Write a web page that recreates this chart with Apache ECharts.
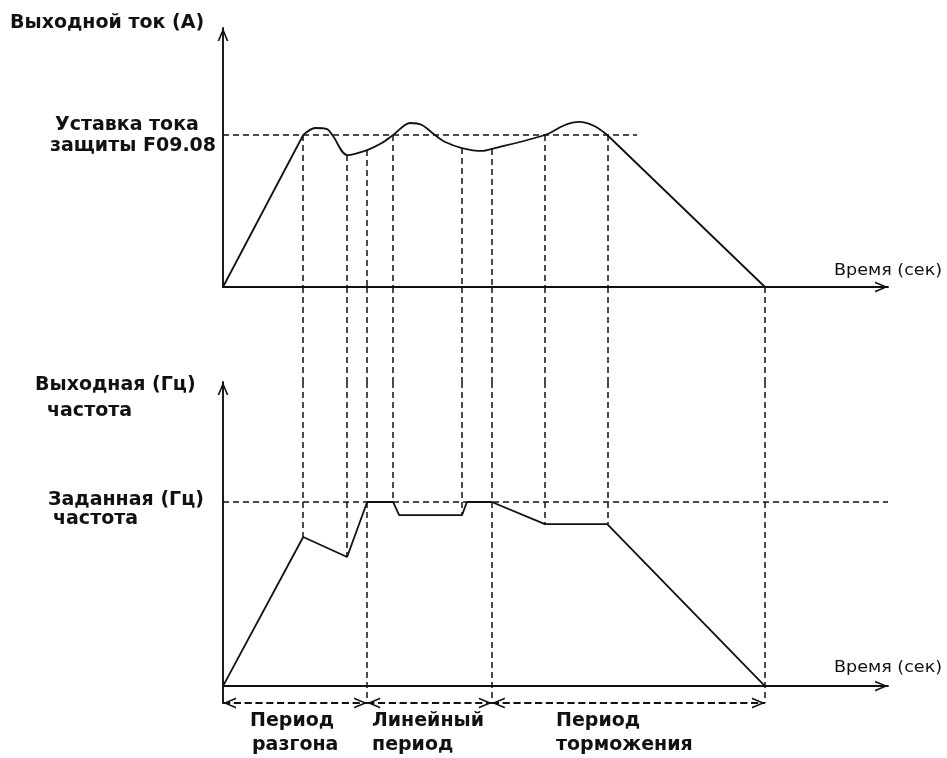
<!DOCTYPE html>
<html>
<head>
<meta charset="utf-8">
<script src="https://cdn.jsdelivr.net/npm/echarts@6/dist/echarts.min.js"></script>
<style>
  html, body { margin: 0; padding: 0; background: #fff; }
  #chart { width: 947px; height: 758px; }
</style>
</head>
<body>
<div id="chart"></div>
<script>
// Output current, in % of the protection current setpoint F09.08
const currentTime  = [0, 14.8, 17.0, 19.2, 20.3, 22.9, 26.6, 29.3, 31.4, 34.5, 36.7, 39.1, 41.0, 44.1, 47.8, 49.6, 59.4, 63.1, 65.7, 68.5, 70.9, 100];
const currentValue = [0, 100, 104.6, 103.9, 99.3, 86.8, 90.1, 94.7, 100, 107.9, 106.6, 100, 95.4, 91.4, 89.5, 90.8, 100, 106.6, 108.6, 105.9, 100, 0];

// Output frequency, in % of the set frequency
const freqTime  = [0, 14.8, 22.9, 26.6, 31.4, 32.5, 44.1, 45.0, 49.6, 59.4, 70.9, 100];
const freqValue = [0, 81.0, 70.1, 100, 100, 92.9, 92.9, 100, 100, 88.0, 88.0, 0];

// Instants carried down from the current curve to the frequency curve
const guideTimes = [14.8, 22.9, 26.6, 31.4, 44.1, 49.6, 59.4, 70.9, 100];

// Period boundaries (acceleration / constant speed / deceleration)
const periodBounds = [0, 26.6, 49.6, 100];

const currentSetpoint = 100;
const freqSetpoint = 100;

// Axis extents
const X_MAX = 122.7;
const TOP_MAX = 170.4;
const BOT_MAX = 165.2;
const BOT_MIN = -9.2;
const SETPOINT_LINE_END = 76.4;

// Open chevron, tip at the centre of its box so it sits exactly on the end point
const chevron = 'path://M5,0L5.02,0L5,0.02Z M0,24L5,12L10,24L8.4,24L5,15.6L1.6,24Z';

function valueAt(times, values, t) {
  for (let i = 0; i < times.length; i++) {
    if (times[i] === t) return values[i];
    if (times[i] > t) {
      const k = (t - times[i - 1]) / (times[i] - times[i - 1]);
      return values[i - 1] + k * (values[i] - values[i - 1]);
    }
  }
  return values[values.length - 1];
}

const pairs = (xs, ys) => xs.map((x, i) => [x, ys[i]]);
const currentPts = pairs(currentTime, currentValue);
const freqPts = pairs(freqTime, freqValue);

const INK = '#111';
const dash = { color: INK, width: 1.5, type: [6, 4] };
const solid = { color: INK, width: 1.8 };

const axisLineStyle = (withArrow) => ({
  show: true,
  onZero: true,
  symbol: withArrow ? ['none', chevron] : 'none',
  symbolSize: [11, 26],
  lineStyle: { color: INK, width: 1.9 }
});

const plainAxis = {
  axisTick: { show: false },
  axisLabel: { show: false },
  splitLine: { show: false }
};

const gridBox = { left: 223, right: 59 };

const xAxes = [0, 1, 2].map(i => Object.assign({
  type: 'value', gridIndex: i, min: 0, max: X_MAX,
  show: i !== 1,
  axisLine: axisLineStyle(true)
}, plainAxis));

const yAxes = [
  Object.assign({ type: 'value', gridIndex: 0, min: 0, max: TOP_MAX, axisLine: axisLineStyle(true) }, plainAxis),
  Object.assign({ type: 'value', gridIndex: 1, min: 0, max: 1, show: false }, plainAxis),
  Object.assign({ type: 'value', gridIndex: 2, min: BOT_MIN, max: BOT_MAX, axisLine: axisLineStyle(true) }, plainAxis)
];

function lineSeries(grid, data, extra) {
  return Object.assign({
    type: 'line', xAxisIndex: grid, yAxisIndex: grid, data: data,
    symbol: 'none', silent: true, lineStyle: solid, z: 3
  }, extra || {});
}

function markLines(grid, segs, style, symbols) {
  return {
    type: 'line', xAxisIndex: grid, yAxisIndex: grid, data: [], silent: true,
    markLine: {
      silent: true, animation: false,
      symbol: symbols || 'none',
      symbolSize: [11, 26],
      label: { show: false },
      lineStyle: style,
      emphasis: { disabled: true },
      data: segs.map(s => [{ coord: s[0] }, { coord: s[1] }])
    }
  };
}

const n = currentPts.length;
const series = [
  // output current: straight rise, smooth regulation zone, straight fall
  lineSeries(0, currentPts.slice(0, 2)),
  lineSeries(0, currentPts.slice(1, n - 1), { smooth: 0.3 }),
  lineSeries(0, currentPts.slice(n - 2)),
  // output frequency
  lineSeries(2, freqPts),
  // setpoint levels
  markLines(0, [[[0, currentSetpoint], [SETPOINT_LINE_END, currentSetpoint]]], dash),
  markLines(2, [[[0, freqSetpoint], [X_MAX, freqSetpoint]]], dash),
  // vertical projections: current curve -> gap -> frequency curve
  markLines(0, guideTimes.map(t => [[t, valueAt(currentTime, currentValue, t)], [t, 0]]), dash),
  markLines(1, guideTimes.map(t => [[t, 1], [t, 0]]), dash),
  markLines(2, guideTimes.map(t => [[t, BOT_MAX],
    [t, periodBounds.includes(t) ? BOT_MIN : valueAt(freqTime, freqValue, t)]]), dash),
  // period dimension line with arrows
  markLines(2, periodBounds.slice(1).map((t, i) => [[periodBounds[i], BOT_MIN], [t, BOT_MIN]]),
    solid, [chevron, chevron])
];

const boldFont = { fontFamily: 'DejaVu Sans', fontWeight: 'bold', fontSize: 19, fill: INK };
const thinFont = { fontFamily: 'DejaVu Sans', fontWeight: 'normal', fontSize: 15, fill: INK };
function txt(text, x, y, font, sx) {
  return { type: 'text', x: x, y: y, scaleX: sx || 1, silent: true, z: 10,
    style: Object.assign({ text: text, align: 'left', verticalAlign: 'middle' }, font) };
}

const graphic = [
  txt('Выходной ток (А)', 10, 23, boldFont),
  txt('Уставка тока', 55, 125, boldFont),
  txt('защиты F09.08', 50, 146, boldFont),
  txt('Выходная (Гц)', 35, 385, boldFont),
  txt('частота', 47, 411, boldFont),
  txt('Заданная (Гц)', 48, 500, boldFont),
  txt('частота', 53, 519, boldFont),
  txt('Время (сек)', 834, 271, thinFont, 1.17),
  txt('Время (сек)', 834, 668, thinFont, 1.17),
  txt('Период', 250, 721, boldFont),
  txt('разгона', 252, 745, boldFont),
  txt('Линейный', 372, 721, boldFont),
  txt('период', 372, 745, boldFont),
  txt('Период', 556, 721, boldFont),
  txt('торможения', 556, 745, boldFont)
];

const chart = echarts.init(document.getElementById('chart'), null, { renderer: 'canvas' });
chart.setOption({
  animation: false,
  backgroundColor: '#fff',
  grid: [
    Object.assign({ top: 28, height: 259 }, gridBox),
    Object.assign({ top: 287, height: 95 }, gridBox),
    Object.assign({ top: 382, height: 321 }, gridBox)
  ],
  xAxis: xAxes,
  yAxis: yAxes,
  series: series,
  graphic: graphic
});
</script>
</body>
</html>
